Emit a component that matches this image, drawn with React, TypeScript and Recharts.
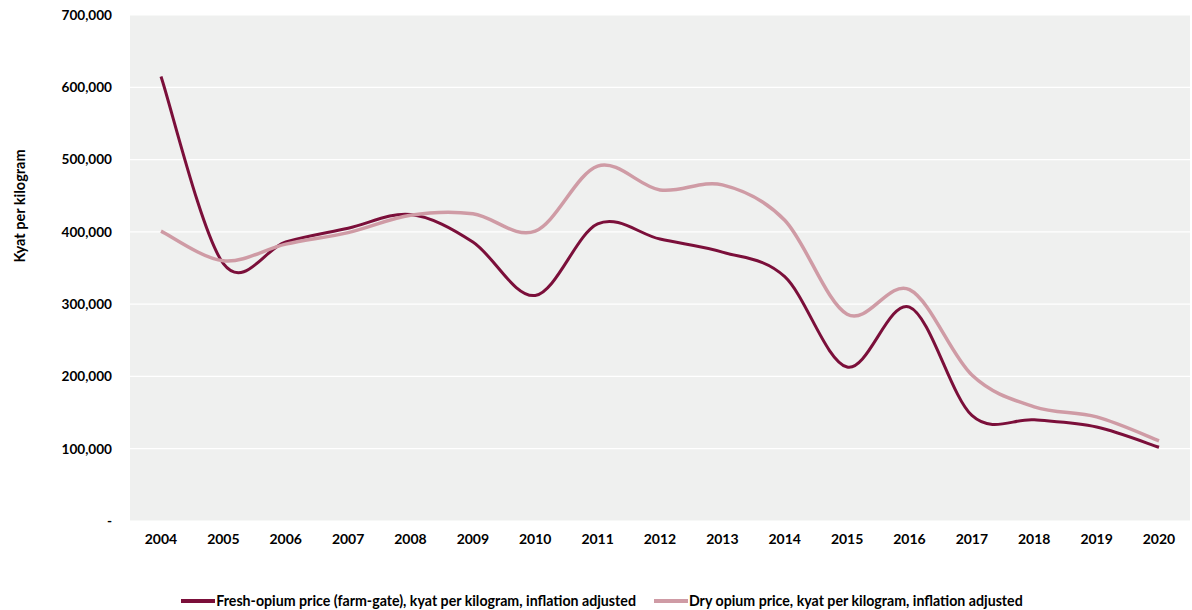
import React from "react"
import { LineChart, Line, XAxis, YAxis, CartesianGrid, Legend, Label } from "recharts"

const years = ["2004", "2005", "2006", "2007", "2008", "2009", "2010", "2011", "2012", "2013", "2014", "2015", "2016", "2017", "2018", "2019", "2020"]
const freshPrice = [615000, 356000, 386000, 405000, 424000, 386000, 312000, 411000, 390000, 372000, 338000, 213000, 296000, 146000, 140000, 130000, 102000]
const dryPrice = [401000, 360000, 383000, 399000, 423000, 425000, 401000, 491000, 458000, 465000, 416000, 286000, 320000, 202000, 158000, 144000, 111000]
const yTicks = [0, 100000, 200000, 300000, 400000, 500000, 600000, 700000]

const FRESH = "#7b0f3a"
const DRY = "#cf9ba5"
const FONT = "Lato, 'Open Sans', sans-serif"

const data = years.map((year, i) => ({ year, fresh: freshPrice[i], dry: dryPrice[i] }))

// Excel-style smoothed line (uniform Catmull-Rom through every point)
const smoothCurve: any = (context: any) => {
  let pts: number[][] = []
  return {
    areaStart() {},
    areaEnd() {},
    lineStart() {
      pts = []
    },
    point(x: number, y: number) {
      pts.push([+x, +y])
    },
    lineEnd() {
      if (!pts.length) return
      context.moveTo(pts[0][0], pts[0][1])
      for (let i = 0; i < pts.length - 1; i++) {
        const p0 = pts[i - 1] || pts[i]
        const p1 = pts[i]
        const p2 = pts[i + 1]
        const p3 = pts[i + 2] || p2
        context.bezierCurveTo(
          p1[0] + (p2[0] - p0[0]) / 6,
          p1[1] + (p2[1] - p0[1]) / 6,
          p2[0] - (p3[0] - p1[0]) / 6,
          p2[1] - (p3[1] - p1[1]) / 6,
          p2[0],
          p2[1]
        )
      }
    },
  }
}

const legendItems = [
  { label: "Fresh-opium price (farm-gate), kyat per kilogram, inflation adjusted", color: FRESH },
  { label: "Dry opium price, kyat per kilogram, inflation adjusted", color: DRY },
]

function LegendContent() {
  return (
    <div
      style={{
        height: 49,
        display: "flex",
        justifyContent: "center",
        alignItems: "flex-end",
        paddingBottom: 1,
        paddingLeft: 14,
        boxSizing: "border-box",
        fontFamily: FONT,
        fontWeight: 700,
        fontSize: 14.2,
        color: "#000",
      }}
    >
      {legendItems.map((item) => (
        <div key={item.label} style={{ display: "flex", alignItems: "center", margin: "0 9px" }}>
          <span style={{ display: "inline-block", width: 34, height: 4, background: item.color, marginRight: 1 }} />
          <span>{item.label}</span>
        </div>
      ))}
    </div>
  )
}

export default function App() {
  return (
    <div style={{ position: "absolute", left: 0, top: 0, width: 1192, height: 610, background: "#fff" }}>
      <LineChart width={1192} height={610} data={data} margin={{ top: 15, right: 2, bottom: 0, left: 0 }}>
        <CartesianGrid vertical={false} stroke="#ffffff" strokeWidth={1.2} fill="#eff0ef" />
        <XAxis
          dataKey="year"
          axisLine={false}
          tickLine={false}
          tickSize={0}
          tickMargin={13}
          height={40}
          interval={0}
          padding={{ left: 31, right: 31 }}
          tick={{ fill: "#000", fontSize: 14, fontWeight: 700, fontFamily: FONT }}
        />
        <YAxis
          width={130}
          domain={[0, 700000]}
          ticks={yTicks}
          axisLine={false}
          tickLine={false}
          tickSize={0}
          tickMargin={18}
          tick={{ fill: "#000", fontSize: 13.6, fontWeight: 700, fontFamily: FONT }}
          tickFormatter={(v: number) => (v === 0 ? "-" : v.toLocaleString("en-US"))}
        >
          <Label
            content={() => (
              <text
                x={19}
                y={206}
                transform="rotate(-90 19 206)"
                textAnchor="middle"
                dominantBaseline="central"
                fill="#000"
                fontSize={14.5}
                fontWeight={700}
                fontFamily={FONT}
              >
                Kyat per kilogram
              </text>
            )}
          />
        </YAxis>
        <Legend verticalAlign="bottom" height={49} content={() => <LegendContent />} />
        <Line
          type={smoothCurve}
          dataKey="fresh"
          stroke={FRESH}
          strokeWidth={3}
          dot={false}
          isAnimationActive={false}
        />
        <Line
          type={smoothCurve}
          dataKey="dry"
          stroke={DRY}
          strokeWidth={3.5}
          dot={false}
          isAnimationActive={false}
        />
      </LineChart>
    </div>
  )
}
